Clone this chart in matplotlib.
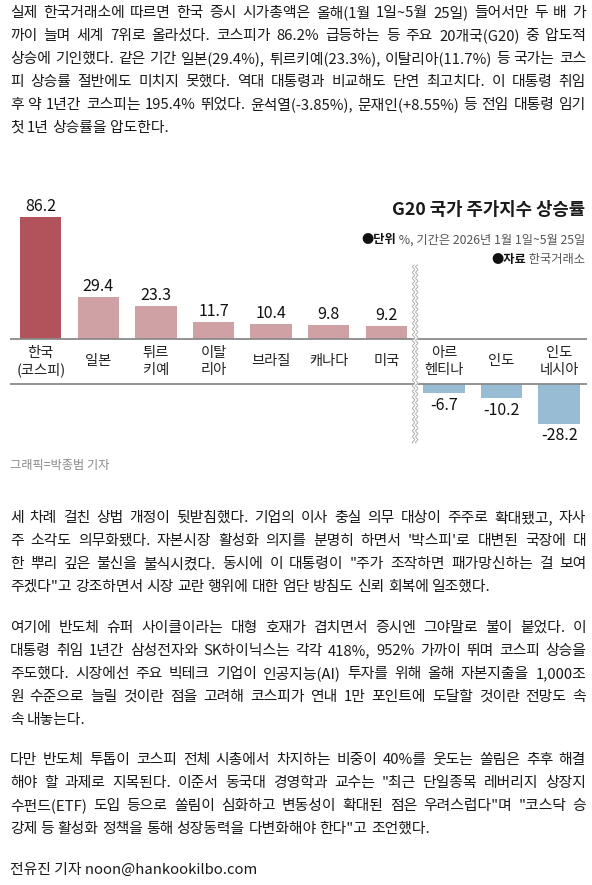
import matplotlib
matplotlib.use('Agg')
import matplotlib.pyplot as plt
import numpy as np

plt.rcParams['font.family'] = ['Noto Sans CJK KR', 'DejaVu Sans']

# ---------------- data ----------------
countries = ['한국\n(코스피)', '일본', '튀르\n키예', '이탈\n리아', '브라질', '캐나다', '미국',
             '아르\n헨티나', '인도', '인도\n네시아']
values = [86.2, 29.4, 23.3, 11.7, 10.4, 9.8, 9.2, -6.7, -10.2, -28.2]

title = 'G20 국가 주가지수 상승률'
unit_label, unit_text = '●단위', ' %, 기간은 2026년 1월 1일~5월 25일'
source_label, source_text = '●자료', ' 한국거래소'
credit = '그래픽=박종범 기자'

para1 = [
    '실제 한국거래소에 따르면 한국 증시 시가총액은 올해(1월 1일~5월 25일) 들어서만 두 배 가',
    '까이 늘며 세계 7위로 올라섰다. 코스피가 86.2% 급등하는 등 주요 20개국(G20) 중 압도적',
    '상승에 기인했다. 같은 기간 일본(29.4%), 튀르키예(23.3%), 이탈리아(11.7%) 등 국가는 코스',
    '피 상승률 절반에도 미치지 못했다. 역대 대통령과 비교해도 단연 최고치다. 이 대통령 취임',
    '후 약 1년간 코스피는 195.4% 뛰었다. 윤석열(-3.85%), 문재인(+8.55%) 등 전임 대통령 임기',
    '첫 1년 상승률을 압도한다.',
]
para2 = [
    '세 차례 걸친 상법 개정이 뒷받침했다. 기업의 이사 충실 의무 대상이 주주로 확대됐고, 자사',
    "주 소각도 의무화됐다. 자본시장 활성화 의지를 분명히 하면서 '박스피'로 대변된 국장에 대",
    '한 뿌리 깊은 불신을 불식시켰다. 동시에 이 대통령이 "주가 조작하면 패가망신하는 걸 보여',
    '주겠다"고 강조하면서 시장 교란 행위에 대한 엄단 방침도 신뢰 회복에 일조했다.',
]
para3 = [
    '여기에 반도체 슈퍼 사이클이라는 대형 호재가 겹치면서 증시엔 그야말로 불이 붙었다. 이',
    '대통령 취임 1년간 삼성전자와 SK하이닉스는 각각 418%, 952% 가까이 뛰며 코스피 상승을',
    '주도했다. 시장에선 주요 빅테크 기업이 인공지능(AI) 투자를 위해 올해 자본지출을 1,000조',
    '원 수준으로 늘릴 것이란 점을 고려해 코스피가 연내 1만 포인트에 도달할 것이란 전망도 속',
    '속 내놓는다.',
]
para4 = [
    '다만 반도체 투톱이 코스피 전체 시총에서 차지하는 비중이 40%를 웃도는 쏠림은 추후 해결',
    '해야 할 과제로 지목된다. 이준서 동국대 경영학과 교수는 "최근 단일종목 레버리지 상장지',
    '수펀드(ETF) 도입 등으로 쏠림이 심화하고 변동성이 확대된 점은 우려스럽다"며 "코스닥 승',
    '강제 등 활성화 정책을 통해 성장동력을 다변화해야 한다"고 조언했다.',
]
byline = '전유진 기자 noon@hankookilbo.com'

# ---------------- figure ----------------
W, H = 592, 885
DPI = 100
fig = plt.figure(figsize=(W / DPI, H / DPI), dpi=DPI)
fig.patch.set_facecolor('white')
renderer = fig.canvas.get_renderer()


def fx(px):
    return px / W


def fy(py):
    return 1 - py / H


TEXT_COLOR = '#1a1a1a'
BODY_SIZE = 10.7
LEFT, RIGHT = 10, 586


def text_width(s, **kw):
    t = fig.text(0, 0, s, **kw)
    w = t.get_window_extent(renderer).width
    t.remove()
    return w


def draw_line(line, y, justify, **kw):
    words = line.split(' ')
    widths = [text_width(w, **kw) for w in words]
    space = text_width('가 가', **kw) - text_width('가가', **kw)
    if justify and len(words) > 1:
        gap = (RIGHT - LEFT - sum(widths)) / (len(words) - 1)
    else:
        gap = space
    x = LEFT
    for w, wd in zip(words, widths):
        fig.text(fx(x), fy(y), w, ha='left', va='center', **kw)
        x += wd + gap


def draw_paragraph(lines, y0, step=23.0):
    kw = dict(fontsize=BODY_SIZE, color=TEXT_COLOR)
    for i, line in enumerate(lines):
        draw_line(line, y0 + i * step, justify=(i < len(lines) - 1), **kw)


draw_paragraph(para1, 13)
draw_paragraph(para2, 518)
draw_paragraph(para3, 628)
draw_paragraph(para4, 760)
fig.text(fx(LEFT), fy(870), byline, ha='left', va='center', fontsize=BODY_SIZE, color=TEXT_COLOR)

# ---------------- chart ----------------
PX_PER_UNIT = 1.415
base_py = 339
gap_units = 45 / PX_PER_UNIT
ax_top_py, ax_bot_py = 180, 480
ax = fig.add_axes([fx(10), fy(ax_bot_py), (587 - 10) / W, (ax_bot_py - ax_top_py) / H])
ax.set_xlim(-0.534, 9.484)
ax.set_ylim(-(ax_bot_py - base_py) / PX_PER_UNIT, (base_py - ax_top_py) / PX_PER_UNIT)
ax.axis('off')

x = np.arange(len(countries))
bottoms = [0 if v >= 0 else -gap_units for v in values]
colors = ['#b2525b'] + ['#cfa0a4' if v >= 0 else '#98bcd4' for v in values[1:]]
ax.bar(x, values, width=0.72, bottom=bottoms, color=colors, zorder=2)

for xi, v, b in zip(x, values, bottoms):
    if v >= 0:
        ax.annotate(f'{v:.1f}', (xi, v), xytext=(0, 1.5), textcoords='offset points',
                    ha='center', va='bottom', fontsize=11.5, fontweight='medium', color='#111')
    else:
        ax.annotate(f'{v:.1f}', (xi, b + v), xytext=(0, -2.5), textcoords='offset points',
                    ha='center', va='top', fontsize=11.5, fontweight='medium', color='#111')
    ax.text(xi, -gap_units / 2, countries[xi], ha='center', va='center', fontsize=10.3,
            color='#222', linespacing=1.25)

ax.axhline(0, color='#8a8a8a', lw=1.3, zorder=3)
ax.axhline(-gap_units, color='#8a8a8a', lw=1.3, zorder=3)

# wavy break separator between positive and negative groups
yy = np.linspace(-73.5, 52.3, 400)
amp = 1.1 / 57.6
off = 1.6 / 57.6
wave = amp * np.sin(yy * 2 * np.pi / 4.0)
ax.fill_betweenx(yy, 6.5 - off + wave, 6.5 + off + wave, color='white', zorder=4, lw=0)
ax.plot(6.5 - off + wave, yy, color='#b0b0b0', lw=0.7, zorder=5)
ax.plot(6.5 + off + wave, yy, color='#b0b0b0', lw=0.7, zorder=5)

# title block
fig.text(fx(585), fy(210), title, ha='right', va='center', fontsize=12.8,
         fontweight='heavy', color='#1a1a1a')


def two_part(label, rest, y, size=8.8):
    t = fig.text(fx(585), fy(y), rest, ha='right', va='center', fontsize=size, color='#555')
    w = t.get_window_extent(renderer).width
    fig.text(fx(585 - w), fy(y), label, ha='right', va='center', fontsize=size,
             fontweight='bold', color='#111')


two_part(unit_label, unit_text, 240)
two_part(source_label, source_text, 260)

fig.text(fx(10), fy(465), credit, ha='left', va='center', fontsize=8.8, color='#8a8a8a')

fig.savefig('out.png', dpi=DPI, facecolor='white')
